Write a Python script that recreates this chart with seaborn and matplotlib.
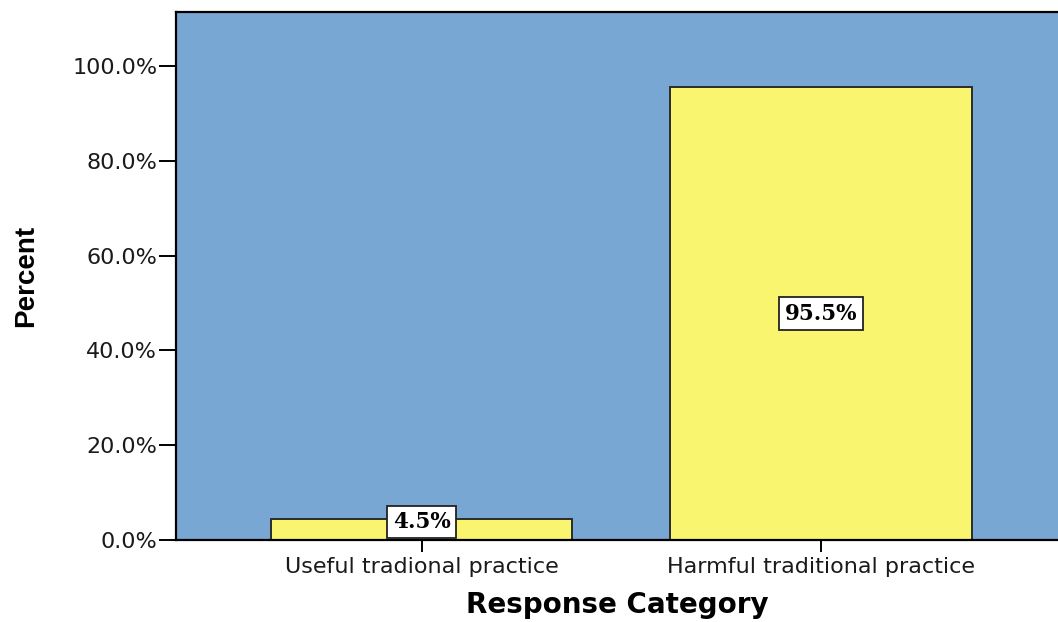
import matplotlib
matplotlib.use("Agg")
import matplotlib.pyplot as plt
import seaborn as sns
import pandas as pd
from matplotlib.ticker import FuncFormatter, MultipleLocator

categories = ["Useful tradional practice", "Harmful traditional practice"]
percents = [4.5, 95.5]
value_labels = ["4.5%", "95.5%"]

sns.set_style("white")
plt.rcParams['font.family'] = ['DejaVu Sans']

BLUE = "#79a7d3"
YELLOW = "#f9f56f"

fig = plt.figure(figsize=(10.58, 6.22), dpi=100)
ax = fig.add_axes([176/1058, 1-540/622, 1-176/1058, (540-12)/622])
ax.set_facecolor(BLUE)

df = pd.DataFrame({"Response Category": categories, "Percent": percents})
sns.barplot(data=df, x="Response Category", y="Percent", color=YELLOW,
            width=0.755, edgecolor="#2b2b2b", linewidth=1.4, saturation=1, ax=ax)

ax.set_xlim(-0.6145, 1.593)
ax.set_ylim(0, 111.4)
ax.yaxis.set_major_locator(MultipleLocator(20))
ax.yaxis.set_major_formatter(FuncFormatter(lambda v, p: f"{v:.1f}%"))

for s in ["left", "bottom", "top"]:
    ax.spines[s].set_visible(True)
    ax.spines[s].set_color("black")
    ax.spines[s].set_linewidth(1.6)
ax.spines["right"].set_visible(False)

ax.tick_params(axis="y", which="major", left=True, length=12, width=1.4,
               pad=1.5, labelsize=16, colors="black", direction="out")
ax.tick_params(axis="x", which="major", bottom=True, length=8.5, width=1.4,
               pad=4, labelsize=16, colors="black", direction="out")
for lab in ax.get_yticklabels() + ax.get_xticklabels():
    lab.set_color("#1a1a1a")

ax.set_xlabel("Response Category", fontsize=20, fontweight="bold",
              labelpad=10, color="black")
ax.set_ylabel("Percent", fontsize=20, fontweight="bold",
              family=['Liberation Sans', 'DejaVu Sans'],
              labelpad=24, color="black")

label_y = [3.8, 47.75]
for i, (yv, txt) in enumerate(zip(label_y, value_labels)):
    ax.text(i, yv, txt, ha="center", va="center", fontsize=15.5,
            fontweight="bold", family="DejaVu Serif", color="black",
            bbox=dict(boxstyle="square,pad=0.25", facecolor="white",
                      edgecolor="#222222", linewidth=1.3))

fig.savefig("out.png", dpi=100)
